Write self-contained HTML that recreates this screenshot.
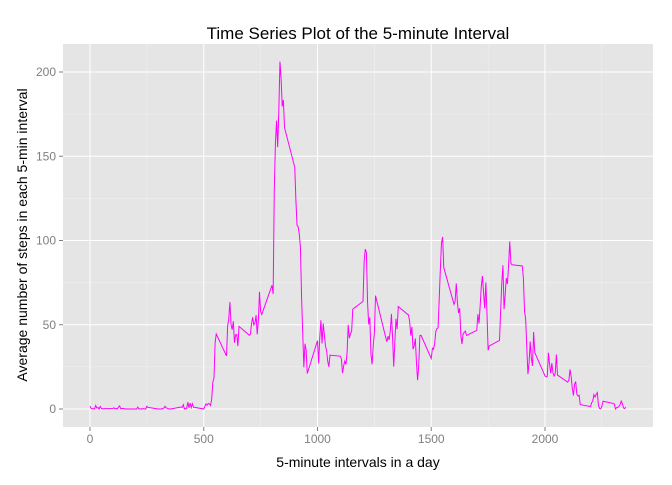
<!DOCTYPE html>
<html><head><meta charset="utf-8"><style>
body{margin:0;background:#fff;}
svg text{font-family:"Liberation Sans",Arial,sans-serif;}
</style></head><body>
<svg id="chart" width="672" height="480">
<rect x="0" y="0" width="672" height="480" fill="#fff"/>
<rect x="63" y="44" width="590" height="383" fill="#E5E5E5"/>
<g id="grid"></g>
<g id="ticks"></g>
<path id="series" fill="none" stroke="#FF00FF" stroke-width="1"/>
<text x="358" y="39" text-anchor="middle" font-size="17" fill="#000">Time Series Plot of the 5-minute Interval</text>
<text x="358" y="467" text-anchor="middle" font-size="14" fill="#000">5-minute intervals in a day</text>
<text transform="translate(27,235) rotate(-90)" text-anchor="middle" font-size="14" fill="#000">Average number of steps in each 5-min interval</text>
</svg>
<script>
const intervals=[];
for(let h=0;h<24;h++)for(let m=0;m<60;m+=5)intervals.push(h*100+m);
const steps=[1.72,0.34,0.13,0.15,0.08,2.09,0.53,0.87,0,1.47,0.3,0.13,0.32,0.68,0.15,0.34,0,1.11,1.83,0.17,0.17,0.38,0.26,0,0,0,1.13,0,0,0.13,0,0.23,0,0,1.55,0.94,0,0,0,0,0.21,0.62,1.62,0.58,0.49,0.08,0,0,1.19,0.94,2.57,0,0.34,0.36,4.11,0.66,3.49,0.83,3.11,1.11,0,1.57,3,2.25,3.32,2.96,2.09,6.06,16.02,18.34,39.45,44.49,31.49,49.26,53.77,63.45,49.96,47.08,52.15,39.34,44.02,44.17,37.36,49.04,43.81,44.38,50.51,54.51,49.92,50.98,55.68,44.32,52.26,69.55,57.85,56.15,73.38,68.21,129.43,157.53,171.15,155.4,177.3,206.17,195.92,179.57,183.4,167.02,143.45,124.04,109.11,108.11,103.72,95.96,66.21,45.23,24.79,38.75,34.98,21.06,40.57,26.98,42.42,52.66,38.92,50.79,44.28,37.42,34.7,28.34,25.09,31.94,31.36,29.68,21.32,25.55,28.38,26.47,33.43,49.98,42.04,44.6,46.04,59.19,63.87,87.7,94.85,92.77,63.4,50.17,54.47,32.42,26.53,37.74,45.06,67.28,42.34,39.89,43.26,40.98,46.25,56.43,42.75,25.13,39.96,53.55,47.32,60.81,55.75,51.96,43.58,48.7,35.47,37.55,41.85,27.51,17.11,26.08,43.62,43.77,30.02,36.08,35.49,38.85,45.96,47.75,48.13,65.32,82.91,98.66,102.11,83.96,62.13,64.13,74.55,63.17,56.91,59.77,43.87,38.57,44.66,45.45,46.21,43.68,46.62,56.3,50.72,61.23,72.72,78.94,68.94,59.66,75.09,56.51,34.77,37.45,40.68,58.02,74.7,85.32,59.26,67.77,77.7,74.25,85.34,99.45,86.58,85.6,84.87,77.83,58.04,53.36,36.32,20.72,27.4,40.02,30.21,25.55,45.66,33.53,19.62,19.02,19.34,33.34,26.81,21.17,27.3,21.34,19.55,21.32,32.3,20.15,15.94,17.23,23.45,19.25,12.45,8.02,14.66,16.3,8.68,7.79,8.13,2.62,1.45,3.68,4.81,8.51,7.08,8.7,9.75,2.21,0.32,0.11,1.6,4.6,3.3,2.85,0,0.83,0.96,1.58,2.6,4.7,3.3,0.64,0.23,1.08];
const xTicks=[0,500,1000,1500,2000];
const yTicks=[0,50,100,150,200];
const xMinor=[250,750,1250,1750,2250];
const yMinor=[25,75,125,175];
const X=v=>90+v*0.2275, Y=v=>409-v*1.685;
const NS="http://www.w3.org/2000/svg";
const grid=document.getElementById('grid'), ticks=document.getElementById('ticks');
function ln(p,x1,y1,x2,y2,c,w){const l=document.createElementNS(NS,'line');
l.setAttribute('x1',x1);l.setAttribute('y1',y1);l.setAttribute('x2',x2);l.setAttribute('y2',y2);
l.setAttribute('stroke',c);l.setAttribute('stroke-width',w);p.appendChild(l);return l;}
function tx(p,x,y,s,a){const t=document.createElementNS(NS,'text');t.setAttribute('x',x);t.setAttribute('y',y);
t.setAttribute('text-anchor',a);t.setAttribute('font-size','12');t.setAttribute('fill','#7F7F7F');t.textContent=s;p.appendChild(t);return t;}
xMinor.forEach(v=>{const l=ln(grid,X(v),44,X(v),427,'#F2F2F2',0.5);

});
yMinor.forEach(v=>{const l=ln(grid,63,Y(v),653,Y(v),'#F2F2F2',0.5);

});
xTicks.forEach(v=>{const l=ln(grid,X(v),44,X(v),427,'#fff',1);


const k=ln(ticks,X(v),427,X(v),431,'#7F7F7F',1);


const t=tx(ticks,X(v),443,String(v),'middle');

});
yTicks.forEach(v=>{const l=ln(grid,63,Y(v),653,Y(v),'#fff',1);


const k=ln(ticks,59,Y(v),63,Y(v),'#7F7F7F',1);


const t=tx(ticks,56,Y(v)+4,String(v),'end');

});
document.getElementById('series').setAttribute('d',intervals.map((v,i)=>(i?'L':'M')+X(v).toFixed(2)+','+Y(steps[i]).toFixed(2)).join(''));
</script>
</body></html>
